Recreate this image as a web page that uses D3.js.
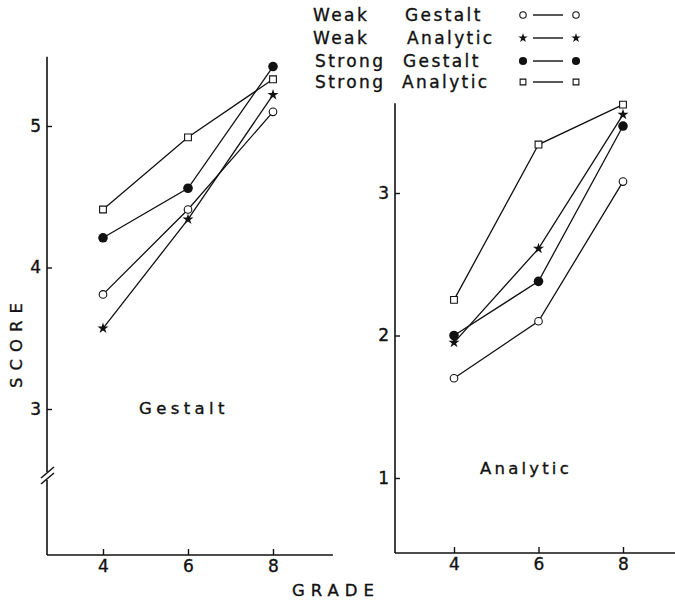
<!DOCTYPE html>
<html>
<head>
<meta charset="utf-8">
<script src="https://cdn.jsdelivr.net/npm/d3@7"></script>
<style>
  body { margin: 0; background: #fff; }
  svg text { font-family: "DejaVu Sans", sans-serif; fill: #111; stroke: #111; stroke-width: 0.35px; }
</style>
</head>
<body>
<div id="chart-area"></div>
<script>
// data
const grades = [4, 6, 8];
const groupNames = [["Weak", "Gestalt"], ["Weak", "Analytic"], ["Strong", "Gestalt"], ["Strong", "Analytic"]];
const groupMarkers = ["openCircle", "star", "filledCircle", "square"];

// Gestalt panel
const gestaltWeakG = [3.81, 4.41, 5.10];
const gestaltWeakA = [3.57, 4.34, 5.22];
const gestaltStrongG = [4.21, 4.56, 5.42];
const gestaltStrongA = [4.41, 4.92, 5.33];

// Analytic panel
const analyticWeakG = [1.70, 2.10, 3.08];
const analyticWeakA = [1.95, 2.61, 3.55];
const analyticStrongG = [2.00, 2.38, 3.47];
const analyticStrongA = [2.25, 3.34, 3.62];

const gestaltTicks = [3, 4, 5];
const analyticTicks = [1, 2, 3];
const gradeTicks = [4, 6, 8];

const ink = "#111";

const svg = d3.select("#chart-area").append("svg")
  .attr("width", 675)
  .attr("height", 602);

const panels = [
  {
    name: "Gestalt",
    series: [gestaltWeakG, gestaltWeakA, gestaltStrongG, gestaltStrongA],
    yTicks: gestaltTicks,
    x: d3.scaleLinear().domain([4, 8]).range([103, 273]),
    y: d3.scaleLinear().domain([3, 5]).range([409, 126]),
    axisX: 47, xEnd: 9.41, yTop: 5.49, axisY: 555, broken: true,
    label: { x: 139, y: 414, ls: 4.4 }
  },
  {
    name: "Analytic",
    series: [analyticWeakG, analyticWeakA, analyticStrongG, analyticStrongA],
    yTicks: analyticTicks,
    x: d3.scaleLinear().domain([4, 8]).range([454, 623]),
    y: d3.scaleLinear().domain([1, 3]).range([478, 193]),
    axisX: 395, xEnd: 9.3, yTop: 3.63, axisY: 553, broken: false,
    label: { x: 480, y: 474, ls: 3.2 }
  }
];

function drawMarker(g, type, cx, cy, scale) {
  scale = scale || 1;
  if (type === "openCircle") {
    g.append("circle").attr("cx", cx).attr("cy", cy).attr("r", 3.8 * scale)
      .attr("fill", "#fff").attr("stroke", ink).attr("stroke-width", 1.1);
  } else if (type === "filledCircle") {
    g.append("circle").attr("cx", cx).attr("cy", cy).attr("r", 4.8 * scale)
      .attr("fill", ink);
  } else if (type === "square") {
    g.append("path").attr("d", d3.symbol(d3.symbolSquare, 46 * scale * scale)())
      .attr("transform", `translate(${cx},${cy})`)
      .attr("fill", "#fff").attr("stroke", ink).attr("stroke-width", 1.1);
  } else {
    g.append("path").attr("d", d3.symbol(d3.symbolStar, 38 * scale * scale)())
      .attr("transform", `translate(${cx},${cy})`)
      .attr("fill", ink);
  }
}

panels.forEach(p => {
  const g = svg.append("g");

  // x axis
  const xAxis = d3.axisBottom(p.x).tickValues(gradeTicks).tickFormat(d3.format("d"))
    .tickSize(-6).tickSizeOuter(0).tickPadding(5);
  const xg = g.append("g").attr("transform", `translate(0,${p.axisY})`).call(xAxis);
  xg.select(".domain").remove();
  xg.append("line").attr("x1", p.axisX).attr("x2", p.x(p.xEnd)).attr("y1", 0).attr("y2", 0)
    .attr("stroke", ink).attr("stroke-width", 1.6);
  xg.selectAll(".tick line").attr("stroke", ink).attr("stroke-width", 1.4);
  xg.selectAll(".tick text").attr("font-size", 17).attr("fill", ink);

  // y axis
  const yAxis = d3.axisLeft(p.y).tickValues(p.yTicks).tickSize(-5).tickFormat(d3.format("d")).tickPadding(6);
  const yg = g.append("g").attr("transform", `translate(${p.axisX},0)`).call(yAxis);
  yg.select(".domain").remove();
  yg.selectAll(".tick line").attr("stroke", ink).attr("stroke-width", 1.4);
  yg.selectAll(".tick text").attr("font-size", 17).attr("fill", ink);

  if (p.broken) {
    const breakY = 476;
    yg.append("line").attr("x1", 0).attr("x2", 0).attr("y1", p.y(p.yTop)).attr("y2", breakY - 4)
      .attr("stroke", ink).attr("stroke-width", 1.6);
    yg.append("line").attr("x1", 0).attr("x2", 0).attr("y1", breakY + 4).attr("y2", p.axisY)
      .attr("stroke", ink).attr("stroke-width", 1.6);
    [-3, 3].forEach(o => {
      yg.append("line").attr("x1", -6).attr("x2", 7)
        .attr("y1", breakY + o + 5).attr("y2", breakY + o - 6)
        .attr("stroke", ink).attr("stroke-width", 1.5);
    });
  } else {
    yg.append("line").attr("x1", 0).attr("x2", 0).attr("y1", p.y(p.yTop)).attr("y2", p.axisY)
      .attr("stroke", ink).attr("stroke-width", 1.6);
  }

  // lines and markers
  const line = d3.line().x((d, i) => p.x(grades[i])).y(d => p.y(d));
  p.series.forEach(s => {
    g.append("path").datum(s).attr("d", line)
      .attr("fill", "none").attr("stroke", ink).attr("stroke-width", 1.3);
  });
  p.series.forEach((s, k) => {
    s.forEach((v, i) => drawMarker(g, groupMarkers[k], p.x(grades[i]), p.y(v)));
  });

  g.append("text").attr("x", p.label.x).attr("y", p.label.y)
    .attr("font-size", 16.5).attr("letter-spacing", p.label.ls).text(p.name);
});

// axis titles
svg.append("text").attr("x", 292).attr("y", 596).attr("font-size", 16.5)
  .attr("letter-spacing", 6).text("GRADE");
svg.append("text").attr("transform", "translate(22,388) rotate(-90)")
  .attr("font-size", 16.5).attr("letter-spacing", 7).text("SCORE");

// legend
const legendRows = [15, 38, 61, 82];
const legendFirstX = [313, 313, 315, 315];
const legendSecondX = [405, 407, 403, 402];
const legend = svg.append("g");
groupNames.forEach((nm, i) => {
  const cy = legendRows[i];
  legend.append("text").attr("x", legendFirstX[i]).attr("y", cy + 6)
    .attr("font-size", 17).attr("letter-spacing", 2.4).text(nm[0]);
  legend.append("text").attr("x", legendSecondX[i]).attr("y", cy + 6)
    .attr("font-size", 17).attr("letter-spacing", 2.4).text(nm[1]);
  legend.append("line").attr("x1", 533).attr("x2", 563).attr("y1", cy).attr("y2", cy)
    .attr("stroke", ink).attr("stroke-width", 1.4);
  drawMarker(legend, groupMarkers[i], 523, cy, 0.85);
  drawMarker(legend, groupMarkers[i], 576, cy, 0.85);
});
</script>
</body>
</html>
